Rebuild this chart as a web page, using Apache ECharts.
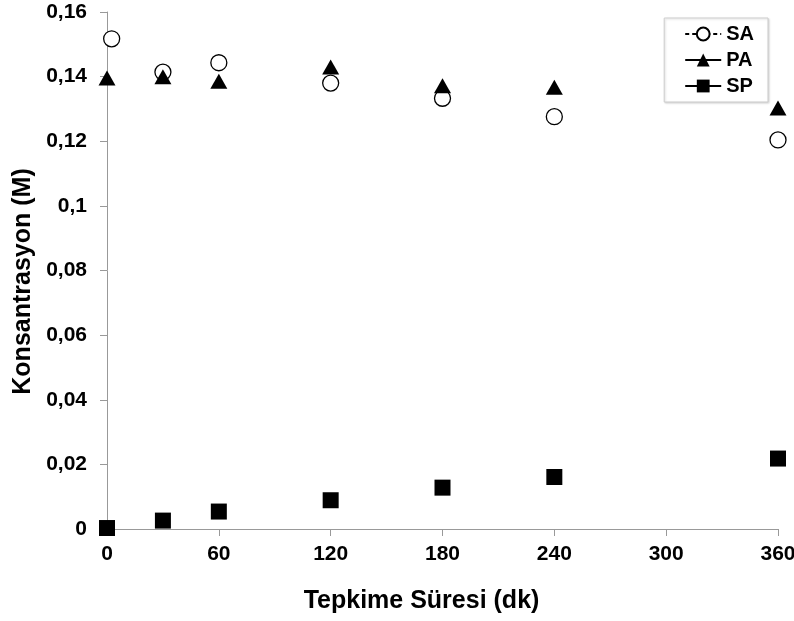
<!DOCTYPE html>
<html>
<head>
<meta charset="utf-8">
<script src="https://cdn.jsdelivr.net/npm/echarts@6/dist/echarts.min.js"></script>
<style>
  html, body { margin: 0; padding: 0; background: #fff; }
  #chart { width: 794px; height: 621px; }
</style>
</head>
<body>
<div id="chart"></div>
<script>
// okunan degerler (Tepkime Suresi dk -> Konsantrasyon M)
var saX = [2.5, 30, 60, 120, 180, 240, 360]
var saY = [0.1517, 0.1414, 0.1443, 0.1380, 0.1333, 0.1276, 0.1204]
var paX = [0, 30, 60, 120, 180, 240, 360]
var paY = [0.1396, 0.1400, 0.1386, 0.1430, 0.1372, 0.1367, 0.1303]
var spX = [0, 30, 60, 120, 180, 240, 360]
var spY = [0.0003, 0.0026, 0.0054, 0.0089, 0.0128, 0.0161, 0.0218]

var xTicks = [0, 60, 120, 180, 240, 300, 360]

function pairs (xs, ys) {
  return xs.map(function (x, i) {
    return [x, ys[i]]
  })
}

var font = 'Liberation Sans'
var graph = echarts.init(document.getElementById('chart'))

var option = {
  animation: false,
  grid: {
    left: 107,
    right: 16,
    top: 12,
    bottom: 92,
    outerBoundsMode: 'none'
  },
  legend: {
    right: 26,
    top: 18,
    orient: 'vertical',
    itemWidth: 36,
    itemHeight: 16,
    itemGap: 6,
    padding: [6, 14, 6, 20],
    borderColor: '#cccccc',
    borderWidth: 1,
    backgroundColor: '#fff',
    shadowColor: 'rgba(0,0,0,0.15)',
    shadowBlur: 2,
    shadowOffsetX: 1,
    shadowOffsetY: 1,
    textStyle: { fontFamily: font, fontWeight: 'bold', fontSize: 20, lineHeight: 17, color: '#000' },
    data: [
      { name: 'SA', lineStyle: { color: '#000', width: 2, type: [4, 3], opacity: 1 } },
      { name: 'PA', lineStyle: { color: '#000', width: 2, type: 'solid', opacity: 1 } },
      { name: 'SP', lineStyle: { color: '#000', width: 2, type: 'solid', opacity: 1 } }
    ]
  },
  xAxis: {
    type: 'value',
    min: 0,
    max: 360,
    interval: 60,
    name: 'Tepkime Süresi (dk)',
    nameLocation: 'middle',
    nameGap: 60,
    nameTextStyle: { fontFamily: font, fontWeight: 'bold', fontSize: 25, color: '#000', padding: [0, 42, 0, 0] },
    axisLine: { show: true, lineStyle: { color: '#999', width: 1 } },
    axisTick: { show: true, length: 7, lineStyle: { color: '#999' } },
    splitLine: { show: false },
    axisLabel: {
      margin: 15,
      fontFamily: font,
      fontWeight: 'bold',
      fontSize: 21,
      color: '#000',
      showMaxLabel: true,
      formatter: function (v) {
        return xTicks.indexOf(v) >= 0 ? String(v) : ''
      }
    }
  },
  yAxis: {
    type: 'value',
    min: 0,
    max: 0.16,
    interval: 0.02,
    name: 'Konsantrasyon (M)',
    nameLocation: 'middle',
    nameGap: 70,
    nameTextStyle: { fontFamily: font, fontWeight: 'bold', fontSize: 25, color: '#000', padding: [0, 22, 0, 0] },
    axisLine: { show: true, lineStyle: { color: '#999', width: 1 } },
    axisTick: { show: true, length: 7, lineStyle: { color: '#999' } },
    splitLine: { show: false },
    axisLabel: {
      margin: 20,
      fontFamily: font,
      fontWeight: 'bold',
      fontSize: 21,
      color: '#000',
      formatter: function (v) {
        return String(Math.round(v * 100) / 100).replace('.', ',')
      }
    }
  },
  series: [
    {
      name: 'SA',
      type: 'line',
      data: pairs(saX, saY),
      symbol: 'circle',
      symbolSize: 16,
      showAllSymbol: true,
      lineStyle: { opacity: 0, width: 0 },
      itemStyle: { color: '#fff', borderColor: '#000', borderWidth: 1.3 },
      z: 2
    },
    {
      name: 'PA',
      type: 'line',
      data: pairs(paX, paY),
      symbol: 'triangle',
      symbolSize: [17, 15],
      showAllSymbol: true,
      lineStyle: { opacity: 0, width: 0 },
      itemStyle: { color: '#000', borderWidth: 0 },
      z: 3
    },
    {
      name: 'SP',
      type: 'line',
      data: pairs(spX, spY),
      symbol: 'rect',
      symbolSize: 16,
      showAllSymbol: true,
      lineStyle: { opacity: 0, width: 0 },
      itemStyle: { color: '#000', borderWidth: 0 },
      z: 3
    }
  ]
}

graph.setOption(option)
</script>
</body>
</html>
